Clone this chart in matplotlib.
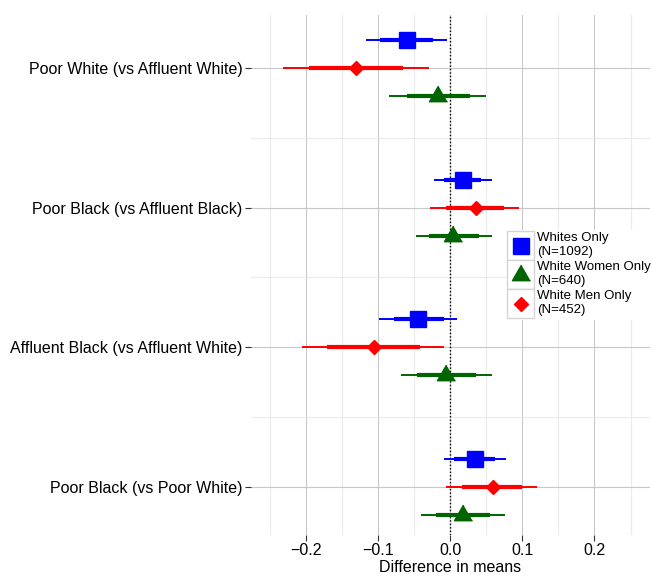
import matplotlib
matplotlib.use("Agg")
import matplotlib.pyplot as plt
from matplotlib.lines import Line2D
from matplotlib.patches import Rectangle
from matplotlib.legend_handler import HandlerBase

plt.rcParams["font.family"] = ["Liberation Sans", "DejaVu Sans"]

# comparisons, top to bottom
comparisons = [
    "Poor White (vs Affluent White)",
    "Poor Black (vs Affluent Black)",
    "Affluent Black (vs Affluent White)",
    "Poor Black (vs Poor White)",
]

# Whites Only (N=1092)
whites_est = [-0.060, 0.0175, -0.045, 0.035]
whites_lo95 = [-0.116, -0.022, -0.098, -0.009]
whites_hi95 = [-0.005, 0.058, 0.009, 0.077]
whites_lo80 = [-0.097, -0.008, -0.078, 0.006]
whites_hi80 = [-0.024, 0.043, -0.009, 0.062]

# White Men Only (N=452)
men_est = [-0.130, 0.036, -0.106, 0.059]
men_lo95 = [-0.231, -0.028, -0.205, -0.006]
men_hi95 = [-0.029, 0.095, -0.008, 0.121]
men_lo80 = [-0.195, -0.006, -0.170, 0.016]
men_hi80 = [-0.065, 0.075, -0.042, 0.100]

# White Women Only (N=640)
women_est = [-0.017, 0.004, -0.006, 0.0175]
women_lo95 = [-0.085, -0.048, -0.068, -0.040]
women_hi95 = [0.050, 0.058, 0.058, 0.076]
women_lo80 = [-0.060, -0.029, -0.046, -0.019]
women_hi80 = [0.027, 0.040, 0.036, 0.055]

TRI = [(0, 1), (-0.866, -0.5), (0.866, -0.5)]

groups = [
    # label, est, lo95, hi95, lo80, hi80, color, marker, size, offset
    ("Whites Only\n(N=1092)", whites_est, whites_lo95, whites_hi95, whites_lo80, whites_hi80, "#0000ff", "s", 11.3, 0.2),
    ("White Women Only\n(N=640)", women_est, women_lo95, women_hi95, women_lo80, women_hi80, "#006400", TRI, 15, -0.2),
    ("White Men Only\n(N=452)", men_est, men_lo95, men_hi95, men_lo80, men_hi80, "#ff0000", "D", 7, 0.0),
]


class BoxedKey(HandlerBase):
    def create_artists(self, legend, orig_handle, xdescent, ydescent,
                       width, height, fontsize, trans):
        box = Rectangle((-xdescent, -ydescent), width, height, facecolor="white",
                        edgecolor="#d4d4d4", lw=1.0, transform=trans)
        mark = Line2D([width / 2 - xdescent], [height / 2 - ydescent], linestyle="none",
                      marker=orig_handle.get_marker(), markersize=orig_handle.get_markersize(),
                      color=orig_handle.get_color(), transform=trans)
        return [box, mark]


fig = plt.figure(figsize=(6.53, 5.76), dpi=100)
ax = fig.add_axes([0.3844, 0.0712, 0.6110, 0.9028])

n = len(comparisons)
base_y = [n - i for i in range(n)]

handles = []
for label, est, lo95, hi95, lo80, hi80, color, marker, ms, off in groups:
    ys = [y + off for y in base_y]
    ax.hlines(ys, lo95, hi95, color=color, lw=1.4, zorder=3)
    ax.hlines(ys, lo80, hi80, color=color, lw=3.0, zorder=3)
    ax.plot(est, ys, linestyle="none", marker=marker, markersize=ms, color=color, zorder=4)
    handles.append(Line2D([], [], linestyle="none", marker=marker, markersize=ms,
                          color=color, label=label))

ax.axvline(0, color="black", lw=1.0, linestyle=(0, (1, 1.5)), zorder=2)

ax.set_xlim(-0.276, 0.277)
ax.set_ylim(0.657, 4.379)
ax.set_xticks([-0.2, -0.1, 0.0, 0.1, 0.2])
ax.set_xticklabels(["\u22120.2", "\u22120.1", "0.0", "0.1", "0.2"])
ax.set_xticks([-0.25, -0.15, -0.05, 0.05, 0.15, 0.25], minor=True)
ax.set_yticks(base_y)
ax.set_yticklabels(comparisons)
ax.set_yticks([1.5, 2.5, 3.5], minor=True)

ax.grid(which="major", color="#c8c8c8", lw=0.8, zorder=0)
ax.grid(which="minor", color="#ebebeb", lw=0.8, zorder=0)
ax.set_axisbelow(True)
for s in ax.spines.values():
    s.set_visible(False)
ax.tick_params(which="major", length=4, width=0.8, color="#333333", labelsize=11.5,
               labelcolor="black", pad=2)
ax.tick_params(which="minor", length=0)
ax.set_xlabel("Difference in means", fontsize=11.5, labelpad=1)

leg = ax.legend(handles=handles, handler_map={Line2D: BoxedKey()}, loc="upper left",
                bbox_to_anchor=(506 / 653, 1 - 230 / 576), bbox_transform=fig.transFigure,
                fontsize=9.5, handlelength=2.05, handleheight=3.0, handletextpad=0.2,
                labelspacing=0.0, borderpad=0.1, borderaxespad=0, frameon=True,
                fancybox=False, facecolor="white", edgecolor="none", framealpha=1)
for t in leg.get_texts():
    t.set_linespacing(1.25)
leg.set_zorder(10)

fig.savefig("out.png", dpi=100)
